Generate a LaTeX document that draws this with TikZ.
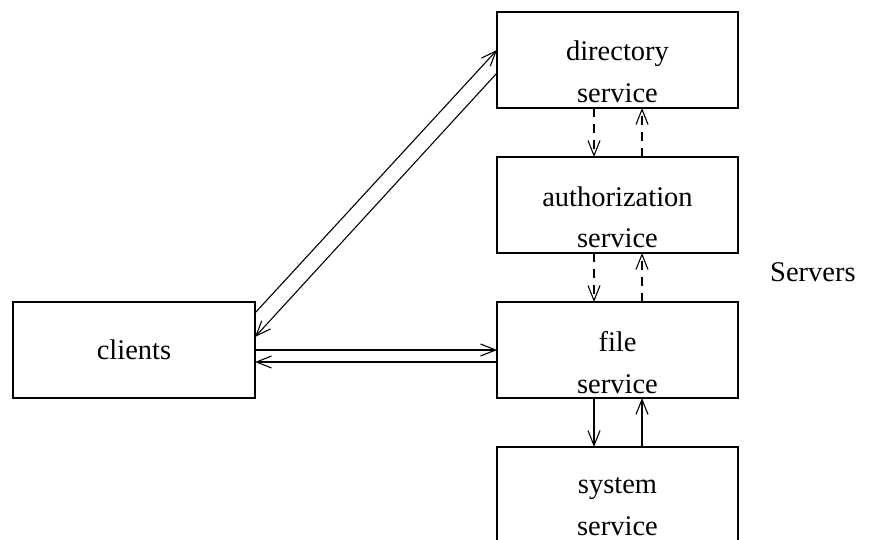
\documentclass[tikz,border=0pt]{standalone}
\usepackage{fontspec}
\setmainfont{Liberation Serif}
\usetikzlibrary{arrows.meta}
\begin{document}
\begin{tikzpicture}[x=1pt,y=-1pt,
  box/.style={draw, line width=1.2pt, minimum width=241pt, minimum height=96pt, inner sep=0pt, outer sep=0pt},
  txt/.style={font=\fontsize{28.5}{42}\selectfont, align=center, inner sep=0pt, anchor=base},
  arr/.style={line width=1.1pt, -{Straight Barb[length=15pt,width=12pt]}},
  darr/.style={arr, dash pattern=on 9pt off 7pt}]
\useasboundingbox (0,0) rectangle (884,540);
\clip (0,0) rectangle (884,540);
\node[box] (dir) at (617.5,60) {};
\node[box] (auth) at (617.5,205) {};
\node[box] (file) at (617.5,350) {};
\node[box] (sys) at (617.5,495) {};
\node[box, minimum width=242pt, font=\fontsize{28.5}{34}\selectfont] (cl) at (134,350) {clients};
\node[txt] (dirt) at (617.5,103) {directory\\service};
\node[txt] (autht) at (617.5,248) {authorization\\service};
\node[txt] (filet) at (617.5,393) {file\\service};
\node[txt] (syst) at (617.5,535) {system\\service};
\node[font=\fontsize{28.5}{34}\selectfont, anchor=base west, inner sep=0pt] (srv) at (770,282) {Servers};
\draw[darr] ([xshift=-23.5pt]dir.south) -- ([xshift=-23.5pt]auth.north);
\draw[darr] ([xshift=24.5pt]auth.north) -- ([xshift=24.5pt]dir.south);
\draw[darr] ([xshift=-23.5pt]auth.south) -- ([xshift=-23.5pt]file.north);
\draw[darr] ([xshift=24.5pt]file.north) -- ([xshift=24.5pt]auth.south);
\draw[arr] ([xshift=-23.5pt]file.south) -- ([xshift=-23.5pt]sys.north);
\draw[arr] ([xshift=24.5pt]sys.north) -- ([xshift=24.5pt]file.south);
\draw[arr] ([yshift=-11pt]cl.north east) -- ([yshift=10pt]dir.west);
\draw[arr] ([yshift=-13pt]dir.west) -- ([yshift=13pt]cl.east);
\draw[arr] (cl.east) -- (file.west);
\draw[arr] ([yshift=-12pt]file.west) -- ([yshift=-12pt]cl.east);
\end{tikzpicture}
\end{document}
